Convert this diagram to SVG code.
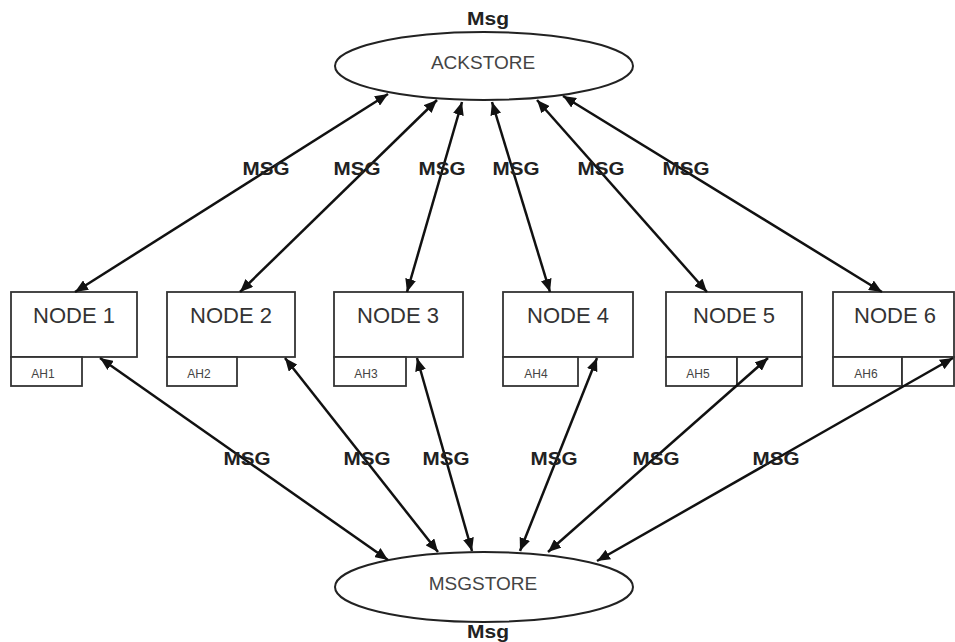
<svg xmlns="http://www.w3.org/2000/svg" width="955" height="642" viewBox="0 0 955 642">
  <defs>
    <marker id="head" viewBox="0 0 13 11" refX="13" refY="5.5" markerWidth="13" markerHeight="11" markerUnits="userSpaceOnUse" orient="auto-start-reverse">
      <path d="M0,0 L13,5.5 L0,11 z" fill="#111"/>
    </marker>
    <style>
      .box { fill: #fff; stroke: #333; stroke-width: 1.8; }
      .store { fill: #fff; stroke: #222; stroke-width: 2; }
      .link { stroke: #111; stroke-width: 2.5; fill: none; marker-start: url(#head); marker-end: url(#head); }
      .node-label { font-family: "Liberation Sans", Arial, sans-serif; font-size: 22px; fill: #333; text-anchor: middle; }
      .ah-label { font-family: "Liberation Sans", Arial, sans-serif; font-size: 12px; fill: #444; text-anchor: middle; }
      .store-label { font-family: "Liberation Sans", Arial, sans-serif; font-size: 19px; fill: #444; text-anchor: middle; }
      .edge-label { font-family: "Liberation Sans", Arial, sans-serif; font-weight: bold; font-size: 19px; fill: #222; text-anchor: middle; }
    </style>
  </defs>
  <rect width="955" height="642" fill="#fff"/>

  <!-- stores -->
  <g id="ackstore">
    <ellipse class="store" cx="484" cy="66" rx="149" ry="34"/>
    <text class="store-label" x="483" y="69">ACKSTORE</text>
    <text class="edge-label" x="488" y="25" textLength="42" lengthAdjust="spacingAndGlyphs">Msg</text>
  </g>
  <g id="msgstore">
    <ellipse class="store" cx="484" cy="587" rx="149" ry="35"/>
    <text class="store-label" x="483" y="590">MSGSTORE</text>
    <text class="edge-label" x="488" y="638" textLength="42" lengthAdjust="spacingAndGlyphs">Msg</text>
  </g>

  <!-- nodes: main box plus the AH cell row beneath -->
  <g id="node1">
    <rect class="box" x="11" y="292" width="126" height="65"/>
    <rect class="box" x="11" y="357" width="71" height="29"/>
    <text class="node-label" x="74" y="323">NODE 1</text>
    <text class="ah-label" x="43" y="378">AH1</text>
  </g>
  <g id="node2">
    <rect class="box" x="167" y="292" width="128" height="65"/>
    <rect class="box" x="167" y="357" width="70" height="29"/>
    <text class="node-label" x="231" y="323">NODE 2</text>
    <text class="ah-label" x="199" y="378">AH2</text>
  </g>
  <g id="node3">
    <rect class="box" x="334" y="292" width="129" height="65"/>
    <rect class="box" x="334" y="357" width="72" height="29"/>
    <text class="node-label" x="398" y="323">NODE 3</text>
    <text class="ah-label" x="366" y="378">AH3</text>
  </g>
  <g id="node4">
    <rect class="box" x="503" y="292" width="130" height="65"/>
    <rect class="box" x="503" y="357" width="75" height="29"/>
    <text class="node-label" x="568" y="323">NODE 4</text>
    <text class="ah-label" x="536" y="378">AH4</text>
  </g>
  <g id="node5">
    <rect class="box" x="666" y="292" width="136" height="65"/>
    <rect class="box" x="666" y="357" width="71" height="29"/>
    <rect class="box" x="737" y="357" width="65" height="29"/>
    <text class="node-label" x="734" y="323">NODE 5</text>
    <text class="ah-label" x="698" y="378">AH5</text>
  </g>
  <g id="node6">
    <rect class="box" x="833" y="292" width="121" height="65"/>
    <rect class="box" x="833" y="357" width="69" height="29"/>
    <rect class="box" x="902" y="357" width="52" height="29"/>
    <text class="node-label" x="895" y="323">NODE 6</text>
    <text class="ah-label" x="866" y="378">AH6</text>
  </g>

  <!-- connectors (double-headed) -->
  <g id="connectors">
    <line class="link" x1="75" y1="292" x2="388" y2="94"/>
    <line class="link" x1="240" y1="292" x2="437" y2="100"/>
    <line class="link" x1="407" y1="292" x2="462" y2="102"/>
    <line class="link" x1="550" y1="292" x2="492" y2="102"/>
    <line class="link" x1="707" y1="292" x2="537" y2="100"/>
    <line class="link" x1="882" y1="292" x2="563" y2="96"/>

    <line class="link" x1="100" y1="358" x2="388" y2="560"/>
    <line class="link" x1="285" y1="358" x2="438" y2="552"/>
    <line class="link" x1="417" y1="358" x2="472" y2="551"/>
    <line class="link" x1="597" y1="358" x2="520" y2="551"/>
    <line class="link" x1="768" y1="358" x2="548" y2="552"/>
    <line class="link" x1="953" y1="358" x2="597" y2="561"/>
  </g>

  <!-- connector labels -->
  <g id="connector-labels">
    <text class="edge-label" x="266" y="175" textLength="47" lengthAdjust="spacingAndGlyphs">MSG</text>
    <text class="edge-label" x="357" y="175" textLength="47" lengthAdjust="spacingAndGlyphs">MSG</text>
    <text class="edge-label" x="442" y="175" textLength="47" lengthAdjust="spacingAndGlyphs">MSG</text>
    <text class="edge-label" x="516" y="175" textLength="47" lengthAdjust="spacingAndGlyphs">MSG</text>
    <text class="edge-label" x="601" y="175" textLength="47" lengthAdjust="spacingAndGlyphs">MSG</text>
    <text class="edge-label" x="686" y="175" textLength="47" lengthAdjust="spacingAndGlyphs">MSG</text>

    <text class="edge-label" x="247" y="465" textLength="47" lengthAdjust="spacingAndGlyphs">MSG</text>
    <text class="edge-label" x="367" y="465" textLength="47" lengthAdjust="spacingAndGlyphs">MSG</text>
    <text class="edge-label" x="446" y="465" textLength="47" lengthAdjust="spacingAndGlyphs">MSG</text>
    <text class="edge-label" x="554" y="465" textLength="47" lengthAdjust="spacingAndGlyphs">MSG</text>
    <text class="edge-label" x="656" y="465" textLength="47" lengthAdjust="spacingAndGlyphs">MSG</text>
    <text class="edge-label" x="776" y="465" textLength="47" lengthAdjust="spacingAndGlyphs">MSG</text>
  </g>
</svg>
